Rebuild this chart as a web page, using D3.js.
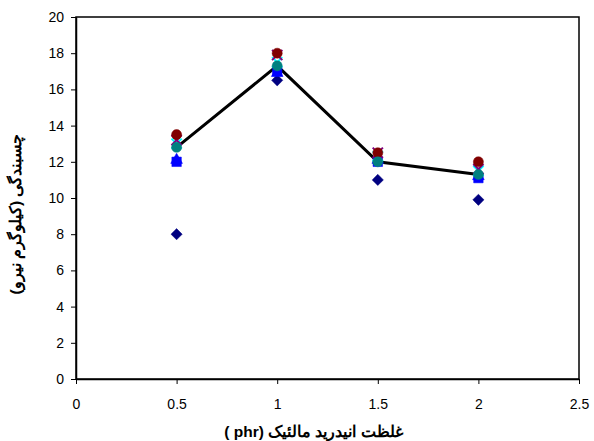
<!DOCTYPE html>
<html>
<head>
<meta charset="utf-8">
<script src="https://cdn.jsdelivr.net/npm/d3@7"></script>
<style>
body { margin: 0; background: #fff; }
text { font-family: "Liberation Sans", Arial, sans-serif; }
</style>
</head>
<body>
<div class="chart"></div>
<script>
// phr values on x
let xValues = [0.5, 1, 1.5, 2];

// the scatter series (Excel style markers)
let diamondSeries = [8, 16.5, 11, 9.9];
let squareSeries = [12, 17, 12, 11.1];
let triangleSeries = [12.1, 16.9, 12.1, 11.2];
let crossCyanSeries = [13, 17.5, 12.3, 11.5];
let crossPurpleSeries = [13.2, 17.9, 12.5, 11.6];
let circleRedSeries = [13.5, 18, 12.5, 12];
let circleTealSeries = [12.8, 17.3, 12, 11.3];
// average line
let lineSeries = [12.8, 17.3, 12, 11.3];

let xTicks = [0, 0.5, 1, 1.5, 2, 2.5];
let yTicks = [0, 2, 4, 6, 8, 10, 12, 14, 16, 18, 20];

let xTitle = "غلظت انیدرید مالئیک (phr )";
let yTitle = "چسبندگی (کیلوگرم نیرو)";

let margin = {top: 17, right: 15, bottom: 62, left: 76};
let width = 594 - margin.left - margin.right;
let height = 441 - margin.top - margin.bottom;

let svg = d3.select('.chart')
    .append('svg')
    .attr('width', 594)
    .attr('height', 441)
    .append("g")
    .attr("transform", `translate(${margin.left},${margin.top})`);

let xScale = d3.scaleLinear().domain([0, 2.5]).range([0, width]);
let yScale = d3.scaleLinear().domain([0, 20]).range([height, 0]);

// box
svg.append("rect")
    .attr("x", 0).attr("y", 0)
    .attr("width", width).attr("height", height)
    .attr("fill", "none")
    .attr("stroke", "#000")
    .attr("stroke-width", 1.5);

let xAxis = d3.axisBottom(xScale).tickValues(xTicks).tickSize(5).tickSizeOuter(0)
    .tickFormat(d3.format("~g"));
let yAxis = d3.axisLeft(yScale).tickValues(yTicks).tickSize(5).tickSizeOuter(0);

let gx = svg.append("g")
    .attr("transform", `translate(0, ${height})`)
    .call(xAxis);
let gy = svg.append("g").call(yAxis);

[gx, gy].forEach(g => {
    g.select(".domain").attr("stroke", "#000").attr("stroke-width", 1.5);
    g.selectAll(".tick line").attr("stroke", "#000");
    g.selectAll(".tick text")
        .attr("font-size", 14)
        .attr("fill", "#000")
        .style("font-family", "Liberation Sans, Arial, sans-serif");
});
gx.selectAll(".tick text").attr("dy", "1.55em");
gy.selectAll(".tick text").attr("x", -12);

svg.append("text")
    .attr("x", width / 2 - 14)
    .attr("y", height + 58)
    .attr("text-anchor", "middle")
    .attr("font-size", 15.5)
    .attr("font-weight", "bold")
    .attr("direction", "rtl")
    .text(xTitle);

svg.append("text")
    .attr("transform", `translate(-55, ${height / 2 + 16}) rotate(-90)`)
    .attr("text-anchor", "middle")
    .attr("font-size", 15.5)
    .attr("font-weight", "bold")
    .attr("direction", "rtl")
    .text(yTitle);

// line
let line = d3.line()
    .x((d, i) => xScale(xValues[i]))
    .y(d => yScale(d));
svg.append("path")
    .datum(lineSeries)
    .attr("d", line)
    .attr("fill", "none")
    .attr("stroke", "#000")
    .attr("stroke-width", 3);

let series = [
    {vals: diamondSeries, sym: d3.symbolDiamond2, size: 80, color: "#000080"},
    {vals: squareSeries, sym: d3.symbolSquare, size: 90, color: "#0000ff"},
    {vals: triangleSeries, sym: d3.symbolTriangle, size: 60, color: "#0000ff"},
    {vals: crossCyanSeries, sym: d3.symbolX, size: 70, color: "#00ffff", line: true},
    {vals: crossPurpleSeries, sym: d3.symbolX, size: 70, color: "#800080", line: true},
    {vals: circleRedSeries, sym: d3.symbolCircle, size: 80, color: "#800000"},
    {vals: circleTealSeries, sym: d3.symbolCircle, size: 80, color: "#008080"}
];

series.forEach(s => {
    svg.append("g").selectAll("path")
        .data(s.vals)
        .enter()
        .append("path")
        .attr("transform", (d, i) => `translate(${xScale(xValues[i])},${yScale(d)})`)
        .attr("d", d3.symbol().type(s.sym).size(s.size))
        .attr("fill", s.line ? "none" : s.color)
        .attr("stroke", s.color)
        .attr("stroke-width", s.line ? 2 : 0.5);
});
</script>
</body>
</html>
